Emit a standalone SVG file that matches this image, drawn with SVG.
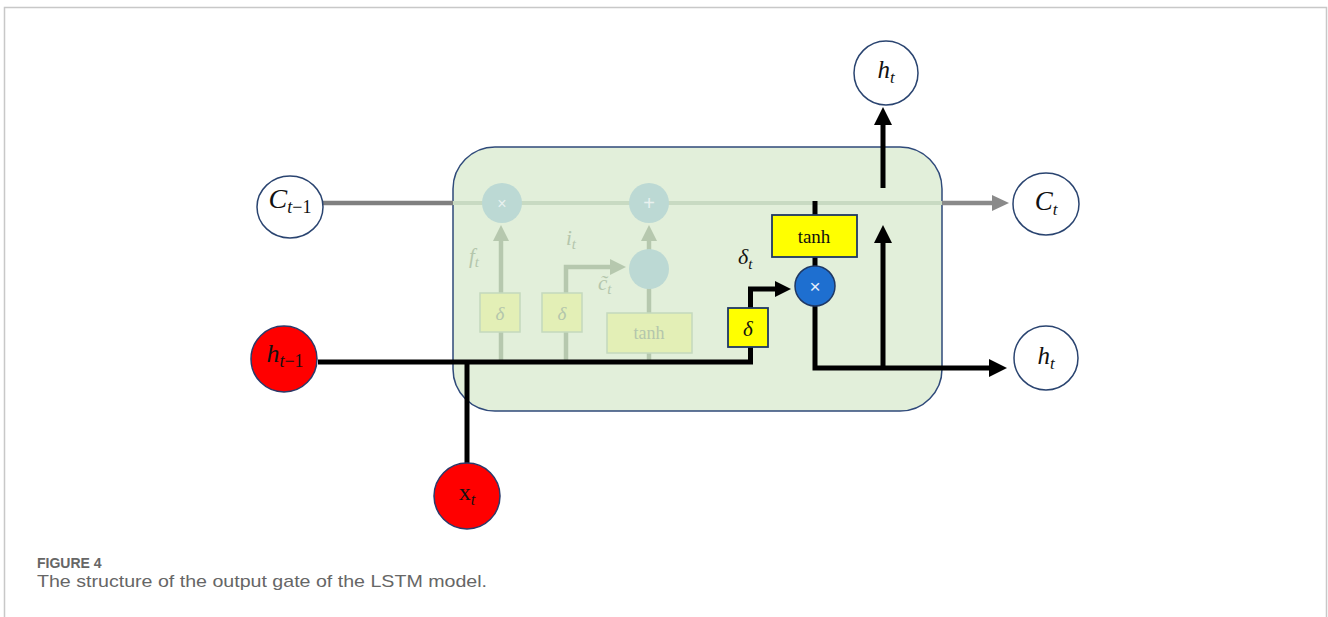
<svg xmlns="http://www.w3.org/2000/svg" width="1328" height="617" viewBox="0 0 1328 617">
  <style>
    .math { font-family: "Liberation Serif", "DejaVu Serif", serif; fill: #111; }
    .it { font-style: italic; }
    .node { fill: #ffffff; stroke: #2a4470; stroke-width: 1.5; }
    .red { fill: #ff0000; stroke: #2a3a6a; stroke-width: 1.5; }
    .gate { fill: #ffff00; stroke: #1f3864; stroke-width: 1.8; }
    .flow { fill: none; stroke: #000; stroke-width: 5; }
    .ghost-line { fill: none; stroke: #b6c8ae; stroke-width: 4.5; }
    .ghost-box { fill: #e3efb6; stroke: #c4d9bd; stroke-width: 1.5; }
    .ghost-op { fill: #bcd9d4; stroke: none; }
    .ghost-text { font-family: "Liberation Serif", "DejaVu Serif", serif; fill: #b4c6ac; }
    .caption { font-family: "Liberation Sans", "Open Sans", sans-serif; fill: #666; }
  </style>
  <defs>
    <marker id="ah-black" markerUnits="userSpaceOnUse" markerWidth="20" markerHeight="20" refX="4" refY="9" orient="auto">
      <path d="M0,0 L18,9 L0,18 z" fill="#000"/>
    </marker>
    <marker id="ah-small" markerUnits="userSpaceOnUse" markerWidth="20" markerHeight="20" refX="4" refY="8" orient="auto">
      <path d="M0,0 L16,8 L0,16 z" fill="#000"/>
    </marker>
    <marker id="ah-gray" markerUnits="userSpaceOnUse" markerWidth="20" markerHeight="20" refX="4" refY="8" orient="auto">
      <path d="M0,0 L17,8 L0,16 z" fill="#8a8a8a"/>
    </marker>
    <marker id="ah-ghost" markerUnits="userSpaceOnUse" markerWidth="20" markerHeight="20" refX="4" refY="8" orient="auto">
      <path d="M0,0 L16,8 L0,16 z" fill="#b6c8ae"/>
    </marker>
  </defs>

  <!-- page frame -->
  <path d="M4.5,617 L4.5,7.5 L1326.5,7.5 L1326.5,617" fill="none" stroke="#c8c8c8" stroke-width="1.5"/>

  <!-- LSTM cell body -->
  <g id="cell">
    <rect x="453" y="147" width="489" height="264" rx="42" ry="42" fill="#e2efda" stroke="#2f4a7a" stroke-width="1.5"/>
  </g>

  <!-- inactive (faded) parts of the cell -->
  <g id="faded-gates">
    <line x1="453" y1="203" x2="942" y2="203" stroke="#c8dac2" stroke-width="4"/>
    <!-- forget gate -->
    <line class="ghost-line" x1="501" y1="362" x2="501" y2="237" marker-end="url(#ah-ghost)"/>
    <rect class="ghost-box" x="480" y="293" width="40" height="39"/>
    <text class="ghost-text" x="500" y="320" font-size="19" text-anchor="middle" font-style="italic">δ</text>
    <text class="ghost-text" x="469" y="263" font-size="21" font-style="italic">f<tspan font-size="15" dy="4">t</tspan></text>
    <circle class="ghost-op" cx="502" cy="203" r="20"/>
    <text x="502" y="209" font-size="16" text-anchor="middle" fill="#e8f1ef" font-family="Liberation Sans, sans-serif">×</text>
    <!-- input gate -->
    <path class="ghost-line" d="M566,362 L566,267 L614,267" marker-end="url(#ah-ghost)"/>
    <rect class="ghost-box" x="542" y="293" width="40" height="39"/>
    <text class="ghost-text" x="562" y="320" font-size="19" text-anchor="middle" font-style="italic">δ</text>
    <text class="ghost-text" x="566" y="245" font-size="21" font-style="italic">i<tspan font-size="15" dy="4">t</tspan></text>
    <!-- candidate -->
    <line class="ghost-line" x1="649" y1="362" x2="649" y2="237" marker-end="url(#ah-ghost)"/>
    <rect class="ghost-box" x="607" y="313" width="85" height="40"/>
    <text class="ghost-text" x="649" y="339" font-size="18" text-anchor="middle">tanh</text>
    <text class="ghost-text" x="598" y="290" font-size="21" font-style="italic">c̃<tspan font-size="15" dy="4">t</tspan></text>
    <circle class="ghost-op" cx="649" cy="269" r="20"/>
    <circle class="ghost-op" cx="649" cy="203" r="20"/>
    <text x="649" y="210" font-size="20" text-anchor="middle" fill="#e8f1ef" font-family="Liberation Sans, sans-serif">+</text>
  </g>

  <!-- connectors -->
  <g id="connectors">
    <!-- cell state -->
    <line x1="323" y1="203" x2="453" y2="203" stroke="#808080" stroke-width="4.5"/>
    <line x1="942" y1="203" x2="996" y2="203" stroke="#8a8a8a" stroke-width="4.5" marker-end="url(#ah-gray)"/>
    <!-- inputs -->
    <path class="flow" d="M318,362 L750.5,362 L750.5,347"/>
    <line class="flow" x1="467" y1="362" x2="467" y2="464"/>
    <!-- sigmoid to multiply -->
    <path class="flow" d="M750.5,308 L750.5,289 L779,289" marker-end="url(#ah-small)"/>
    <!-- cell state to tanh to multiply -->
    <line class="flow" x1="815" y1="201" x2="815" y2="215"/>
    <line class="flow" x1="815" y1="257" x2="815" y2="267"/>
    <!-- output h_t -->
    <path class="flow" d="M815,305 L815,368 L993,368" marker-end="url(#ah-black)"/>
    <line class="flow" x1="883" y1="368" x2="883" y2="239" marker-end="url(#ah-black)"/>
    <line class="flow" x1="883" y1="188" x2="883" y2="121" marker-end="url(#ah-black)"/>
  </g>

  <!-- output gate -->
  <g id="sigma-out">
    <rect class="gate" x="728" y="308" width="40" height="39"/>
    <text class="math it" x="748" y="336" font-size="21" text-anchor="middle">δ</text>
  </g>
  <g id="tanh-out">
    <rect class="gate" x="772" y="215" width="85" height="42"/>
    <text class="math" x="814" y="243" font-size="19" text-anchor="middle">tanh</text>
  </g>
  <g id="mult-out">
    <circle cx="815" cy="286" r="20" fill="#1e6fd0" stroke="#1f3864" stroke-width="1.5"/>
    <text x="815" y="293" font-size="19" text-anchor="middle" fill="#e6eefa" font-family="Liberation Sans, sans-serif">×</text>
  </g>
  <g id="label-delta-t">
    <text class="math it" x="738" y="264" font-size="22">δ<tspan font-size="15" dy="5">t</tspan></text>
  </g>

  <!-- state nodes -->
  <g id="c-prev">
    <ellipse class="node" cx="290" cy="207" rx="33" ry="31"/>
    <text class="math" x="290" y="208" font-size="28" text-anchor="middle"><tspan class="it">C</tspan><tspan font-size="18" dy="5"><tspan class="it">t</tspan>−1</tspan></text>
  </g>
  <g id="h-prev">
    <circle class="red" cx="284" cy="359" r="33"/>
    <text class="math" x="285" y="362" font-size="26" text-anchor="middle"><tspan class="it">h</tspan><tspan font-size="18" dy="5"><tspan class="it">t</tspan>−1</tspan></text>
  </g>
  <g id="x-t">
    <circle class="red" cx="467" cy="496" r="33"/>
    <text class="math" x="467" y="500" font-size="24" text-anchor="middle">x<tspan class="it" font-size="16" dy="5">t</tspan></text>
  </g>
  <g id="h-top">
    <circle class="node" cx="886" cy="73" r="32"/>
    <text class="math" x="886" y="78" font-size="25" text-anchor="middle"><tspan class="it">h</tspan><tspan class="it" font-size="17" dy="5">t</tspan></text>
  </g>
  <g id="c-t">
    <ellipse class="node" cx="1046" cy="204" rx="33" ry="31"/>
    <text class="math" x="1046" y="210" font-size="27" text-anchor="middle"><tspan class="it">C</tspan><tspan class="it" font-size="17" dy="5">t</tspan></text>
  </g>
  <g id="h-right">
    <circle class="node" cx="1046" cy="358" r="32"/>
    <text class="math" x="1046" y="364" font-size="25" text-anchor="middle"><tspan class="it">h</tspan><tspan class="it" font-size="17" dy="5">t</tspan></text>
  </g>

  <!-- caption -->
  <g id="caption">
    <text class="caption" x="37" y="568" font-size="14" font-weight="bold">FIGURE 4</text>
    <text class="caption" x="37" y="587" font-size="17" textLength="450" lengthAdjust="spacingAndGlyphs">The structure of the output gate of the LSTM model.</text>
  </g>
</svg>
